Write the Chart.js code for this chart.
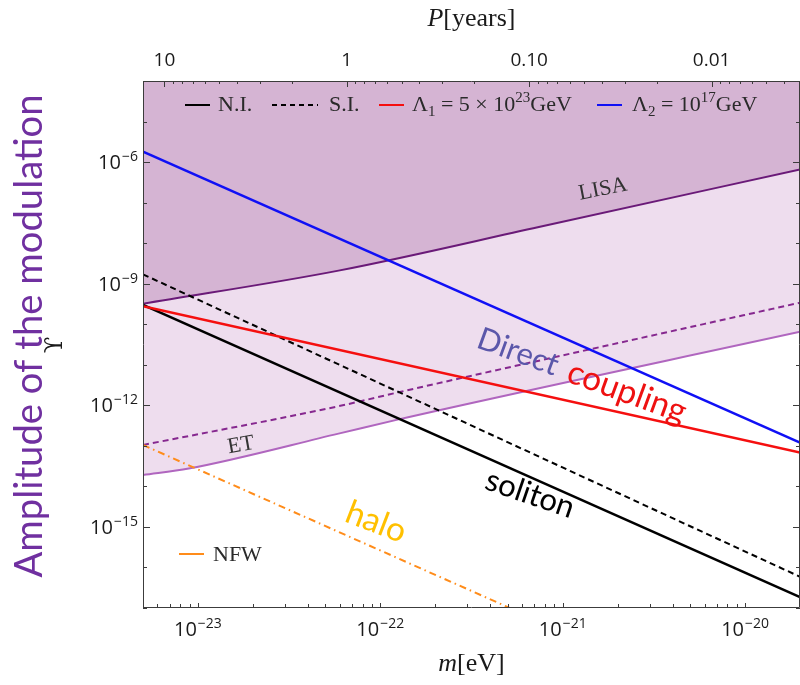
<!DOCTYPE html>
<html>
<head>
<meta charset="utf-8">
<script src="https://cdn.jsdelivr.net/npm/chart.js@4.4.1/dist/chart.umd.min.js"></script>
<style>
  html, body { margin: 0; padding: 0; background: #ffffff; }
  #wrap { width: 800px; height: 685px; position: relative; }
</style>
</head>
<body>
<div id="wrap"><canvas id="chart" width="800" height="685"></canvas></div>
<script>
// ---- axis ranges and ticks ----
const massRange = [5e-24, 2e-20];          // m [eV]
const upsilonRange = [1e-17, 1e-4];        // modulation amplitude
const periodConst = 6.55e-23;              // P[years] = periodConst / m[eV]
const massTicks = [1e-23, 1e-22, 1e-21, 1e-20];
const massTickExp = ['23', '22', '21', '20'];
const upsilonTicks = [1e-15, 1e-12, 1e-9, 1e-6];
const upsilonTickExp = ['15', '12', '9', '6'];
const periodTicks = [10, 1, 0.1, 0.01];
const periodTickLabels = ['10', '1', '0.10', '0.01'];

// ---- curves ----
const straightMass = [5e-24, 2e-20];
const niAmp = [3.0e-10, 1.86e-17];          // N.I. soliton
const siAmp = [1.7e-9, 5.9e-17];            // S.I. soliton
const lambda1Amp = [2.8e-10, 6.8e-14];      // direct coupling, Lambda_1
const lambda2Amp = [1.8e-6, 1.2e-13];       // direct coupling, Lambda_2
const nfwAmp = [1.05e-13, 6.6e-21];         // NFW halo

const lisaMass = [5e-24, 5.9e-23, 7.4e-22, 2e-20];
const lisaAmp = [3.2e-10, 2.1e-9, 2.5e-8, 6.6e-7];

const etMass = [5e-24, 8.9e-24, 5.9e-23, 1.26e-22, 2e-20];
const etAmp = [1.9e-14, 2.75e-14, 2.0e-13, 4.5e-13, 6.5e-11];

const etDashMass = [5e-24, 5.9e-23, 1.26e-22, 2e-20];
const etDashAmp = [1.05e-13, 9.5e-13, 2.1e-12, 3.4e-10];

// faint seam in the sensitivity shading
const seamMass = [5.25e-23, 5.25e-23];
const seamAmp = [1.8e-13, 1e-4];

const pts = (xs, ys) => xs.map((x, i) => ({ x, y: ys[i] }));

const darkFill = 'rgb(213,180,211)';
const lightFill = 'rgb(238,221,238)';

const base = { pointRadius: 0, pointHoverRadius: 0, showLine: true, fill: false, tension: 0 };

const datasets = [
  { ...base, label: 'Lambda2', data: pts(straightMass, lambda2Amp), borderColor: '#1010f5', borderWidth: 2.5 },
  { ...base, label: 'Lambda1', data: pts(straightMass, lambda1Amp), borderColor: '#f50f0f', borderWidth: 2.5 },
  { ...base, label: 'N.I.', data: pts(straightMass, niAmp), borderColor: '#000000', borderWidth: 2.5 },
  { ...base, label: 'S.I.', data: pts(straightMass, siAmp), borderColor: '#000000', borderWidth: 2, borderDash: [6, 4] },
  { ...base, label: 'NFW', data: pts(straightMass, nfwAmp), borderColor: '#ff8c1a', borderWidth: 2, borderDash: [7, 4, 1.5, 4] },
  { ...base, label: 'ET dashed', data: pts(etDashMass, etDashAmp), borderColor: '#86288f', borderWidth: 2, borderDash: [6, 4], cubicInterpolationMode: 'monotone' },
  { ...base, label: 'LISA', data: pts(lisaMass, lisaAmp), borderColor: '#6a1a78', borderWidth: 2, fill: 'end', backgroundColor: darkFill, cubicInterpolationMode: 'monotone' },
  { ...base, label: 'ET', data: pts(etMass, etAmp), borderColor: '#b066bf', borderWidth: 2, fill: 'end', backgroundColor: lightFill, cubicInterpolationMode: 'monotone' },
  { ...base, label: 'seam', data: pts(seamMass, seamAmp), borderColor: 'rgba(255,255,255,0.55)', borderWidth: 1 }
];

const SANS = '"Open Sans", "Noto Sans", sans-serif';
const SERIF = '"Liberation Serif", "DejaVu Serif", serif';
const BIG = 'Lato, "Open Sans", sans-serif';

// draw "10" with a raised negative exponent
function drawPow(ctx, exp, x, y, align) {
  const bf = '20px ' + SANS, ef = '14px ' + SANS;
  ctx.font = bf; const wb = ctx.measureText('10').width;
  const es = '\u2212' + exp;
  ctx.font = ef; const we = ctx.measureText(es).width;
  const w = wb + we + 1;
  let x0 = align === 'right' ? x - w : x - w / 2;
  ctx.textAlign = 'left'; ctx.textBaseline = 'alphabetic';
  ctx.font = bf; ctx.fillText('10', x0, y);
  ctx.font = ef; ctx.fillText(es, x0 + wb + 1, y - 8);
}

// rich text: list of [text, font, dy]
function drawRich(ctx, parts, x, y) {
  let cx = x;
  for (const [t, f, dy] of parts) {
    ctx.font = f; ctx.fillText(t, cx, y + (dy || 0));
    cx += ctx.measureText(t).width;
  }
  return cx;
}
function richWidth(ctx, parts) {
  let w = 0;
  for (const [t, f] of parts) { ctx.font = f; w += ctx.measureText(t).width; }
  return w;
}

// rotated label fitted to a given width
function fittedText(ctx, text, family, color, cx, cy, angleDeg, width) {
  ctx.save();
  ctx.font = '100px ' + family;
  const size = 100 * width / ctx.measureText(text).width;
  ctx.font = size.toFixed(2) + 'px ' + family;
  ctx.translate(cx, cy);
  ctx.rotate(angleDeg * Math.PI / 180);
  ctx.fillStyle = color;
  ctx.textAlign = 'center'; ctx.textBaseline = 'middle';
  ctx.fillText(text, 0, 0);
  ctx.restore();
}

const framePlugin = {
  id: 'frameTicks',
  afterDatasetsDraw(chart) {
    const { ctx, chartArea: a, scales } = chart;
    const sx = scales.x, sy = scales.y, st = scales.xTop;
    ctx.save();
    ctx.strokeStyle = '#3c3c3c';
    ctx.lineWidth = 1;
    ctx.beginPath();
    ctx.rect(a.left + 0.5, a.top + 0.5, a.right - a.left - 1, a.bottom - a.top - 1);
    ctx.stroke();

    const tick = (x1, y1, x2, y2) => { ctx.moveTo(x1, y1); ctx.lineTo(x2, y2); };
    ctx.beginPath();
    // bottom: mass ticks, pointing inward
    for (let n = -24; n <= -20; n++) {
      for (let k = 1; k <= 9; k++) {
        const v = k * Math.pow(10, n);
        if (v < massRange[0] || v > massRange[1]) continue;
        const px = Math.round(sx.getPixelForValue(v)) + 0.5;
        tick(px, a.bottom, px, a.bottom - (k === 1 ? 5 : 4));
      }
    }
    // top: period ticks
    const pMin = periodConst / massRange[1], pMax = periodConst / massRange[0];
    for (let n = -3; n <= 1; n++) {
      for (let k = 1; k <= 9; k++) {
        const v = k * Math.pow(10, n);
        if (v < pMin || v > pMax) continue;
        const px = Math.round(st.getPixelForValue(v)) + 0.5;
        tick(px, a.top, px, a.top + (k === 1 ? 6 : 3));
      }
    }
    // left / right: every decade
    for (let n = -17; n <= -4; n++) {
      const v = Math.pow(10, n);
      const py = Math.round(sy.getPixelForValue(v)) + 0.5;
      const major = upsilonTicks.some(t => Math.abs(Math.log10(t) - n) < 1e-6);
      tick(a.left, py, a.left + (major ? 7 : 4), py);
      tick(a.right, py, a.right - (major ? 7 : 4), py);
    }
    ctx.stroke();

    // tick labels
    ctx.fillStyle = '#1a1a1a';
    massTicks.forEach((v, i) => drawPow(ctx, massTickExp[i], sx.getPixelForValue(v), a.bottom + 28, 'center'));
    upsilonTicks.forEach((v, i) => drawPow(ctx, upsilonTickExp[i], a.left - 5, sy.getPixelForValue(v) + 7, 'right'));
    ctx.font = '19px ' + SANS;
    ctx.textAlign = 'center'; ctx.textBaseline = 'alphabetic';
    periodTicks.forEach((v, i) => ctx.fillText(periodTickLabels[i], st.getPixelForValue(v), a.top - 15));
    ctx.restore();
  },
  afterDraw(chart) {
    const { ctx, chartArea: a } = chart;
    ctx.save();
    ctx.fillStyle = '#1a1a1a';
    ctx.textBaseline = 'alphabetic'; ctx.textAlign = 'left';

    // axis titles
    const ital = 'italic 26px ' + SERIF, rom = '26px ' + SERIF;
    const bottomTitle = [['m', ital], ['[eV]', rom]];
    const cxb = (a.left + a.right) / 2;
    drawRich(ctx, bottomTitle, cxb - richWidth(ctx, bottomTitle) / 2, 671);
    const topTitle = [['P', ital], ['[years]', rom]];
    drawRich(ctx, topTitle, cxb - richWidth(ctx, topTitle) / 2, 26);

    ctx.save();
    ctx.translate(56, 345);
    ctx.rotate(-Math.PI / 2);
    ctx.font = '24px "DejaVu Serif", serif'; ctx.textAlign = 'center'; ctx.textBaseline = 'middle';
    ctx.fillText('\u03D2', 0, 0);
    ctx.restore();

    fittedText(ctx, 'Amplitude of the modulation', BIG, '#7030a0', 30, 336, -90, 483);

    // legend
    const ly = 111, lf = '22px ' + SERIF, sf = '15px ' + SERIF;
    ctx.lineWidth = 2;
    const seg = (x1, x2, color, dash) => {
      ctx.beginPath(); ctx.setLineDash(dash || []); ctx.strokeStyle = color;
      ctx.moveTo(x1, ly - 6); ctx.lineTo(x2, ly - 6); ctx.stroke(); ctx.setLineDash([]);
    };
    ctx.fillStyle = '#2a2a2a';
    seg(185, 210, '#000');
    drawRich(ctx, [['N.I.', lf]], 218, ly);
    seg(272, 318, '#000', [5, 4]);
    drawRich(ctx, [['S.I.', lf]], 329, ly);
    seg(379, 404, '#f50f0f');
    drawRich(ctx, [['\u039B', lf], ['1', sf, 5], [' = 5 \u00D7 10', lf], ['23', sf, -9], ['GeV', lf]], 412, ly);
    seg(597, 622, '#1010f5');
    drawRich(ctx, [['\u039B', lf], ['2', sf, 5], [' = 10', lf], ['17', sf, -9], ['GeV', lf]], 632, ly);

    // NFW legend
    ctx.lineWidth = 2;
    ctx.beginPath(); ctx.strokeStyle = '#ff8c1a';
    ctx.moveTo(179, 554); ctx.lineTo(204, 554); ctx.stroke();
    drawRich(ctx, [['NFW', lf]], 213, 561);

    // detector labels
    ctx.save();
    ctx.fillStyle = '#333';
    ctx.font = '22px ' + SERIF; ctx.textAlign = 'center';
    ctx.translate(604, 195); ctx.rotate(-11 * Math.PI / 180);
    ctx.fillText('LISA', 0, 0);
    ctx.restore();
    ctx.save();
    ctx.fillStyle = '#333';
    ctx.font = '22px ' + SERIF; ctx.textAlign = 'center';
    ctx.translate(242, 451); ctx.rotate(-10 * Math.PI / 180);
    ctx.fillText('ET', 0, 0);
    ctx.restore();

    // curve annotations
    fittedText(ctx, 'Direct', BIG, '#5b57aa', 518, 352, 20, 84);
    fittedText(ctx, 'coupling', BIG, '#ee1111', 627, 392, 20, 124);
    fittedText(ctx, 'soliton', BIG, '#000000', 530, 494, 19, 92);
    fittedText(ctx, 'halo', BIG, '#ffc000', 376, 522, 21, 62);
    ctx.restore();
  }
};

new Chart(document.getElementById('chart'), {
  type: 'scatter',
  data: { datasets },
  options: {
    responsive: false,
    animation: false,
    events: [],
    layout: { padding: { left: 0, right: 0, top: 0, bottom: 0 } },
    plugins: { legend: { display: false }, tooltip: { enabled: false } },
    scales: {
      x: {
        type: 'logarithmic', position: 'bottom', min: massRange[0], max: massRange[1],
        ticks: { display: false }, grid: { display: false }, border: { display: false },
        afterFit: s => { s.height = 77; }
      },
      xTop: {
        type: 'logarithmic', position: 'top', reverse: true,
        min: periodConst / massRange[1], max: periodConst / massRange[0],
        ticks: { display: false }, grid: { display: false }, border: { display: false },
        afterFit: s => { s.height = 81; }
      },
      y: {
        type: 'logarithmic', position: 'left', min: upsilonRange[0], max: upsilonRange[1],
        ticks: { display: false }, grid: { display: false }, border: { display: false },
        afterFit: s => { s.width = 143; }
      }
    }
  },
  plugins: [framePlugin]
});
</script>
</body>
</html>
